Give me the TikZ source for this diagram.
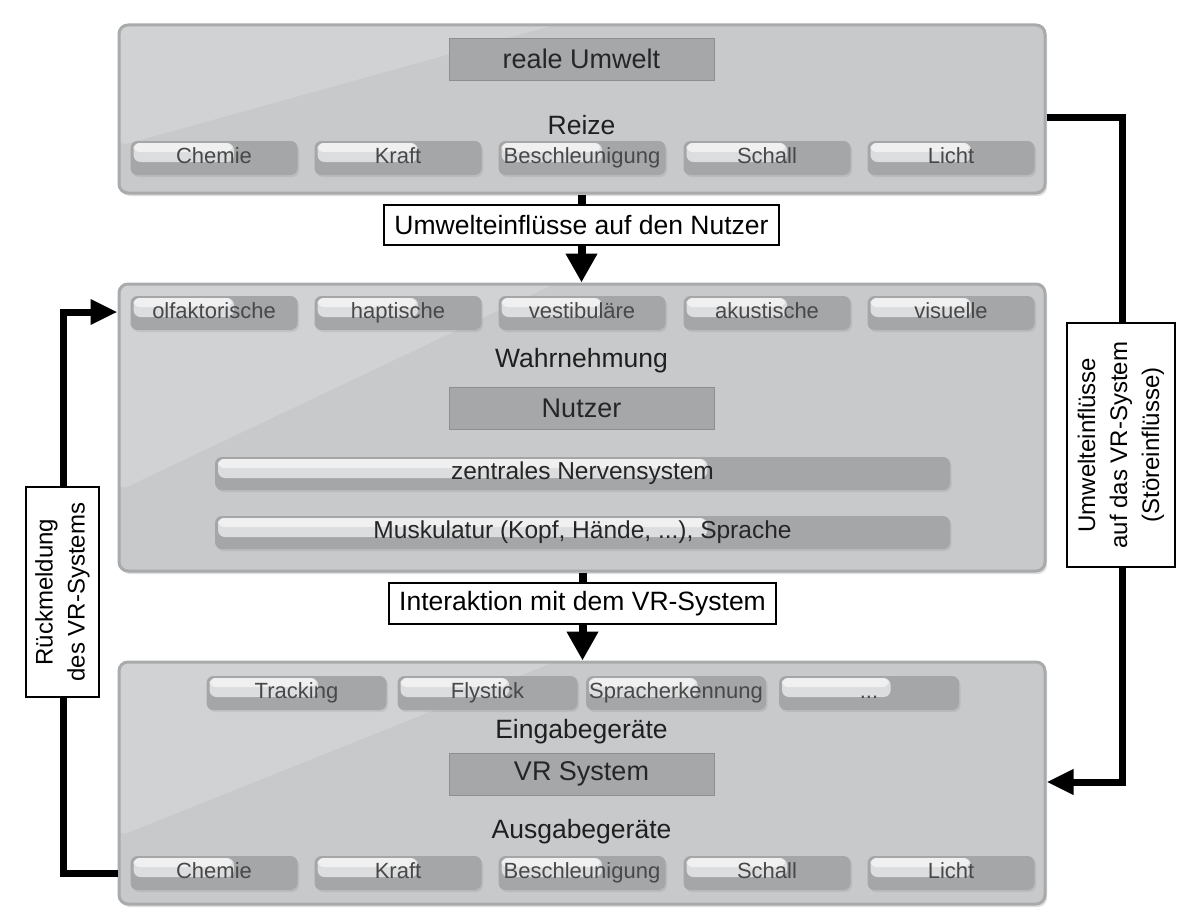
\documentclass[tikz,border=0pt]{standalone}
\usepackage{fontspec}
\setmainfont{Liberation Sans}
\usetikzlibrary{arrows.meta,shadows,calc}

\definecolor{boxfill}{HTML}{C8C9CB}
\definecolor{boxline}{HTML}{A9AAAC}
\definecolor{pillfill}{HTML}{A5A6A8}
\definecolor{darkfill}{HTML}{A6A7A9}
\definecolor{pilltext}{HTML}{484848}
\definecolor{hltop}{HTML}{F0F0F1}
\definecolor{hlmid}{HTML}{DCDDDE}
\definecolor{hlbot}{HTML}{C3C4C6}

\tikzset{
  hlfrac/.store in=\hlfrac, hlfrac=0.62,
  bigbox/.style={draw=boxline, line width=3pt, fill=boxfill, rounded corners=9pt,
    drop shadow={opacity=0.25, shadow xshift=2pt, shadow yshift=-3pt},
    path picture={\fill[white,opacity=0.18]
      (path picture bounding box.north west)
      -- ($(path picture bounding box.north west)!0.47!(path picture bounding box.north east)$)
      -- ($(path picture bounding box.north west)!0.72!(path picture bounding box.south west)$)
      -- cycle;}},
  inbox/.style={fill=darkfill, draw=darkfill!85!black, line width=0.6pt,
    minimum width=265pt, minimum height=42pt, inner sep=0pt,
    font=\fontsize{27}{30}\selectfont, text=black!85},
  head/.style={font=\fontsize{26.5}{30}\selectfont, text=black!88, inner sep=0pt},
  pill/.style={fill=pillfill, rounded corners=7pt, minimum width=167pt,
    minimum height=34pt, inner sep=0pt, text height=15.5pt, text depth=4.5pt,
    font=\fontsize{22}{24}\selectfont, text=pilltext,
    drop shadow={opacity=0.18, shadow xshift=1.5pt, shadow yshift=-2pt},
    path picture={
      \path let \p1=(path picture bounding box.north west),
                \p2=(path picture bounding box.north east) in
        [fill=hlmid, rounded corners=7pt]
        (\x1+3pt,\y1-2pt) rectangle ({\x1+\hlfrac*(\x2-\x1)},\y1-21pt);
      \path let \p1=(path picture bounding box.north west),
                \p2=(path picture bounding box.north east) in
        [fill=hltop, rounded corners=6pt]
        (\x1+3pt,\y1-2pt) rectangle ({\x1+\hlfrac*(\x2-\x1)-2pt},\y1-11pt);
    }},
  inpill/.style={pill, minimum width=180pt},
  bar/.style={pill, hlfrac=0.67, minimum width=735pt, minimum height=33pt,
    font=\fontsize{24.5}{27}\selectfont, text=black!85},
  lab/.style={draw=black, line width=1.2pt, fill=white, inner sep=0pt,
    font=\fontsize{26.5}{30}\selectfont, text=black},
  vlab/.style={lab, rotate=90, align=center, font=\fontsize{24}{32}\selectfont},
  mainarrow/.style={line width=8pt, -{Triangle[width=30pt,length=29pt]}},
  mainline/.style={line width=8pt},
  side/.style={line width=7pt, -{Triangle[width=24pt,length=27pt]}}
}

\begin{document}
\begin{tikzpicture}[x=1pt,y=-1pt]
\useasboundingbox (0,0) rectangle (1177,915);
\fill[white] (0,0) rectangle (1177,915);

\node[bigbox, minimum width=926pt, minimum height=168pt] (top) at (582,109) {};
\node[bigbox, minimum width=926pt, minimum height=287pt] (mid) at (582,427.5) {};
\node[bigbox, minimum width=926pt, minimum height=242pt] (bot) at (582,783) {};

% side connectors (labels drawn afterwards cover them)
\draw[side] (top.east |- 0,118) -- (1122,118) -- (1122,782) -- (bot.east |- 0,782);
\draw[side] (bot.west |- 0,873) -- (63,873) -- (63,312) -- (mid.west |- 0,312);

\node[vlab, minimum width=244pt, minimum height=108pt] (rlab) at (1121,445)
  {Umwelteinflüsse\\auf das VR-System\\(Störeinflüsse)};
\node[vlab, minimum width=210pt, minimum height=73pt] (llab) at (62.5,592)
  {Rückmeldung\\des VR-Systems};

% top box content
\node[inbox] (umwelt) at (581.5,59) {reale Umwelt};
\node[head] (reize) at (581.5,125) {Reize};
\node[pill] (r1) at (214,158) {Chemie};
\node[pill] (r2) at (398,158) {Kraft};
\node[pill] (r3) at (582,158) {Beschleunigung};
\node[pill] (r4) at (767,158) {Schall};
\node[pill] (r5) at (951,158) {Licht};

% middle box content
\node[pill] (w1) at (214,313) {olfaktorische};
\node[pill] (w2) at (398,313) {haptische};
\node[pill] (w3) at (582,313) {vestibuläre};
\node[pill] (w4) at (767,313) {akustische};
\node[pill] (w5) at (951,313) {visuelle};
\node[head] (wahr) at (581.5,361) {Wahrnehmung};
\node[inbox] (nutzer) at (581.5,408) {Nutzer};
\node[bar] (zns) at (582.5,473.5) {zentrales Nervensystem};
\node[bar] (musk) at (582.5,532.5) {Muskulatur (Kopf, Hände, ...), Sprache};

% bottom box content
\node[inpill] (e1) at (296.5,693) {Tracking};
\node[inpill] (e2) at (487.5,693) {Flystick};
\node[inpill] (e3) at (676,693) {Spracherkennung};
\node[inpill] (e4) at (869,693) {...};
\node[head] (ein) at (581.5,732) {Eingabegeräte};
\node[inbox] (vr) at (581.5,774) {VR System};
\node[head] (aus) at (581.5,832) {Ausgabegeräte};
\node[pill] (a1) at (214,873) {Chemie};
\node[pill] (a2) at (398,873) {Kraft};
\node[pill] (a3) at (582,873) {Beschleunigung};
\node[pill] (a4) at (767,873) {Schall};
\node[pill] (a5) at (951,873) {Licht};

% central arrows with labels
\node[lab, minimum width=395pt, minimum height=40pt] (lab1) at (581.5,225) {Umwelteinflüsse auf den Nutzer};
\node[lab, minimum width=387pt, minimum height=41pt] (lab2) at (582.5,603.5) {Interaktion mit dem VR-System};

\draw[mainline] (top.south -| lab1.north) -- (lab1.north);
\draw[mainarrow] (lab1.south) -- (mid.north -| lab1.south);
\draw[mainline] (mid.south -| lab2.north) -- (lab2.north);
\draw[mainarrow] (lab2.south) -- (bot.north -| lab2.south);
\end{tikzpicture}
\end{document}
